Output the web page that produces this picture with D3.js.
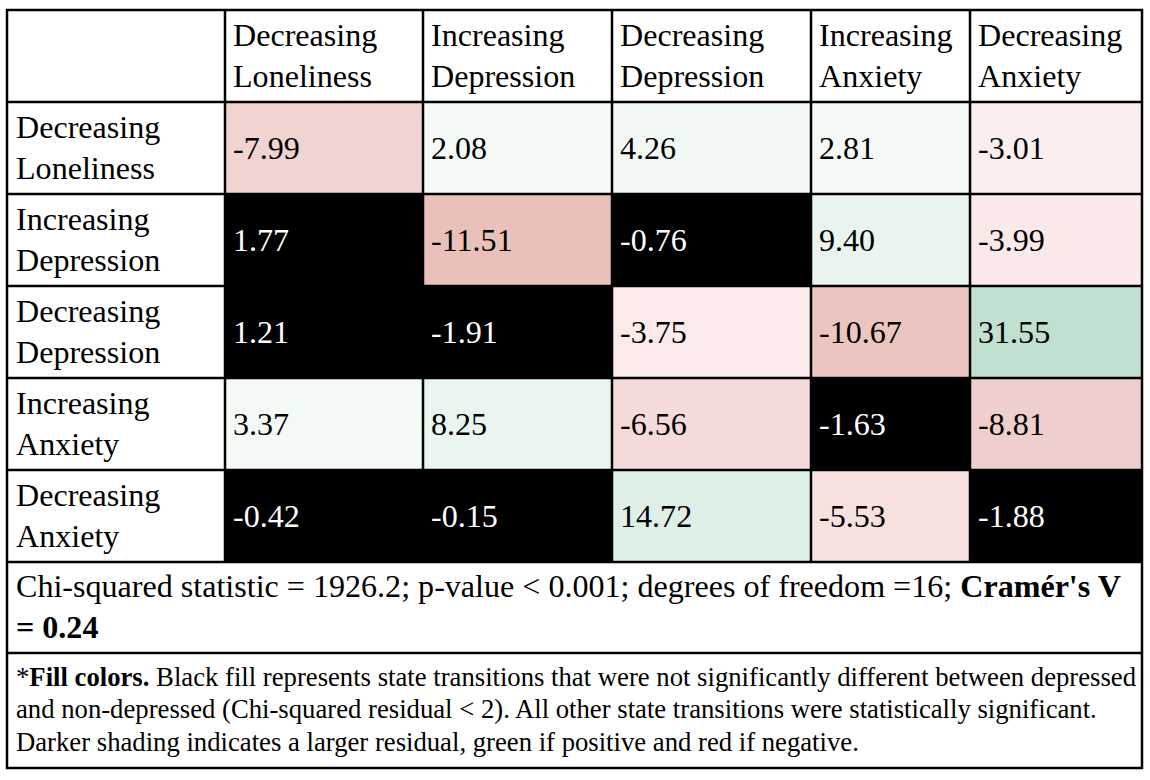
<!DOCTYPE html>
<html>
<head>
<meta charset="utf-8">
<script src="https://cdn.jsdelivr.net/npm/d3@7"></script>
<style>
  html, body { margin: 0; padding: 0; background: #fff; }
  svg { display: block; font-family: "Liberation Serif", "Times New Roman", serif; }
</style>
</head>
<body>
<svg id="chart"></svg>
<script>
// Chi-squared residuals of state transitions, depressed vs non-depressed

const STATES = [
    'Decreasing Loneliness',
    'Increasing Depression',
    'Decreasing Depression',
    'Increasing Anxiety',
    'Decreasing Anxiety',
];

// rows = from-state, columns = to-state
const RESIDUALS = [
    [-7.99,   2.08,  4.26,   2.81,  -3.01],
    [ 1.77, -11.51, -0.76,   9.40,  -3.99],
    [ 1.21,  -1.91, -3.75, -10.67,  31.55],
    [ 3.37,   8.25, -6.56,  -1.63,  -8.81],
    [-0.42,  -0.15, 14.72,  -5.53,  -1.88],
];

const SIG_THRESHOLD = 2;

const STATS_LINE_1 = [
    { text: 'Chi-squared statistic = 1926.2; p-value < 0.001; degrees of freedom =16; ', bold: false },
    { text: "Cramér's V", bold: true },
];
const STATS_LINE_2 = [{ text: '= 0.24', bold: true }];

const NOTE_LINES = [
    [{ text: '*', bold: false }, { text: 'Fill colors.', bold: true },
     { text: ' Black fill represents state transitions that were not significantly different between depressed', bold: false }],
    [{ text: 'and non-depressed (Chi-squared residual < 2). All other state transitions were statistically significant.', bold: false }],
    [{ text: 'Darker shading indicates a larger residual, green if positive and red if negative.', bold: false }],
];

// ── Layout ────────────────────────────────────────────────────────────────
const W = 1150, H = 780;
const LEFT = 7, TOP = 10;
const COL_W = [218, 198, 189, 199, 159, 172];
const GRID_BOTTOM = 562, STATS_BOTTOM = 653, BOTTOM = 768;
const FONT = 32.1, NOTE_FONT = 26.7;
const PAD = 8;

const svg = d3.select('#chart').attr('width', W).attr('height', H);
svg.append('rect').attr('width', W).attr('height', H).attr('fill', '#fff');

const colKeys = ['__label', ...STATES];
const lefts = d3.cumsum([0, ...COL_W.slice(0, -1)]).map(d => LEFT + d);
const RIGHT = LEFT + d3.sum(COL_W);

const x = d3.scaleOrdinal().domain(colKeys).range(lefts);
const colWidth = d3.scaleOrdinal().domain(colKeys).range(COL_W);
const y = d3.scaleBand().domain(['__header', ...STATES]).range([TOP, GRID_BOTTOM]);

const color = d3.scaleLinear()
    .domain([-11.51, -SIG_THRESHOLD, SIG_THRESHOLD, 31.55])
    .range(['#eac0bb', '#fdf4f4', '#f5faf7', '#c0e1d0'])
    .clamp(true);

const fmt = d3.formatLocale({ decimal: '.', thousands: ',', grouping: [3], currency: ['', ''], minus: '-' }).format('.2f');

const cells = [];
RESIDUALS.forEach((row, i) => row.forEach((v, j) => cells.push({ from: STATES[i], to: STATES[j], value: v })));

const isNs = d => Math.abs(d.value) < SIG_THRESHOLD;

// ── Cell fills ────────────────────────────────────────────────────────────
const g = svg.append('g');

g.selectAll('.cell')
    .data(cells)
    .join('rect')
    .attr('class', 'cell')
    .attr('x', d => x(d.to))
    .attr('y', d => y(d.from))
    .attr('width', d => colWidth(d.to))
    .attr('height', y.bandwidth())
    .attr('fill', d => isNs(d) ? '#000' : color(d.value));

g.selectAll('.cell-val')
    .data(cells)
    .join('text')
    .attr('class', 'cell-val')
    .attr('x', d => x(d.to) + PAD)
    .attr('y', d => y(d.from) + y.bandwidth() / 2 + 10.5)
    .attr('font-size', FONT)
    .attr('fill', d => isNs(d) ? '#fff' : '#000')
    .text(d => fmt(d.value));

// ── Two-line labels (header + row labels) ─────────────────────────────────
function twoLine(sel, xf, yf) {
    sel.attr('font-size', FONT).attr('fill', '#000')
        .each(function(d) {
            const words = d.split(' ');
            const t = d3.select(this);
            t.append('tspan').attr('x', xf(d)).attr('y', yf(d) - 10).text(words[0]);
            t.append('tspan').attr('x', xf(d)).attr('y', yf(d) + 31).text(words.slice(1).join(' '));
        });
}

g.selectAll('.col-label')
    .data(STATES)
    .join('text')
    .attr('class', 'col-label')
    .call(twoLine, d => x(d) + PAD, () => y('__header') + y.bandwidth() / 2);

g.selectAll('.row-label')
    .data(STATES)
    .join('text')
    .attr('class', 'row-label')
    .call(twoLine, () => LEFT + 9, d => y(d) + y.bandwidth() / 2);

// ── Grid lines ────────────────────────────────────────────────────────────
const lineG = svg.append('g').attr('stroke', '#000').attr('stroke-width', 2.5);

lineG.selectAll('.hline')
    .data(y.domain().slice(1).map(k => y(k)).concat([GRID_BOTTOM, STATS_BOTTOM]))
    .join('line')
    .attr('x1', LEFT).attr('x2', RIGHT)
    .attr('y1', d => d).attr('y2', d => d);

lineG.selectAll('.vline')
    .data(STATES)
    .join('line')
    .attr('x1', d => x(d)).attr('x2', d => x(d))
    .attr('y1', TOP).attr('y2', GRID_BOTTOM);

lineG.append('rect')
    .attr('x', LEFT).attr('y', TOP)
    .attr('width', RIGHT - LEFT).attr('height', BOTTOM - TOP)
    .attr('fill', 'none');

// ── Statistics + note rows ────────────────────────────────────────────────
function richLine(parts, xPos, yPos, size) {
    const t = svg.append('text').attr('x', xPos).attr('y', yPos)
        .attr('font-size', size).attr('fill', '#000')
        .attr('xml:space', 'preserve');
    parts.forEach(p => t.append('tspan')
        .attr('font-weight', p.bold ? 700 : 400)
        .text(p.text));
}

richLine(STATS_LINE_1, LEFT + 9, GRID_BOTTOM + 35, FONT);
richLine(STATS_LINE_2, LEFT + 9, GRID_BOTTOM + 76, FONT);

NOTE_LINES.forEach((parts, i) => richLine(parts, LEFT + 9, STATS_BOTTOM + 33 + i * 32.3, NOTE_FONT));
</script>
</body>
</html>
